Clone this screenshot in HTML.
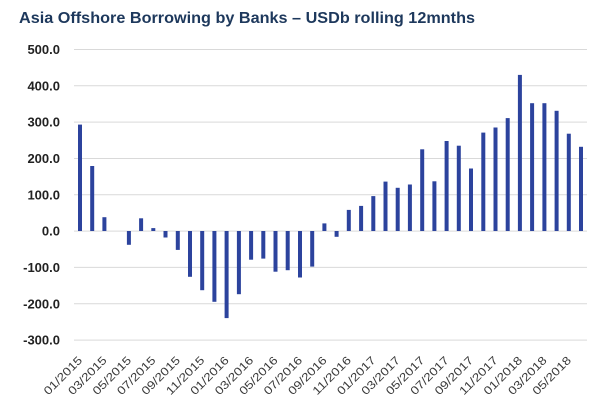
<!DOCTYPE html>
<html>
<head>
<meta charset="utf-8">
<style>
html,body{margin:0;padding:0;background:#fff;}
svg{display:block;}
</style>
</head>
<body>
<svg width="600" height="415" viewBox="0 0 600 415" xmlns="http://www.w3.org/2000/svg">
<rect width="600" height="415" fill="#fff"/>
<text x="19" y="23" font-family="Liberation Sans, sans-serif" font-weight="bold" font-size="16" fill="#1d385c" textLength="456" lengthAdjust="spacingAndGlyphs">Asia Offshore Borrowing by Banks – USDb rolling 12mnths</text>

<g stroke="#d9d9d9" stroke-width="1">
<line x1="74" x2="587" y1="49.5" y2="49.5"/>
<line x1="74" x2="587" y1="85.8" y2="85.8"/>
<line x1="74" x2="587" y1="122.1" y2="122.1"/>
<line x1="74" x2="587" y1="158.5" y2="158.5"/>
<line x1="74" x2="587" y1="194.8" y2="194.8"/>
<line x1="74" x2="587" y1="231.1" y2="231.1"/>
<line x1="74" x2="587" y1="267.4" y2="267.4"/>
<line x1="74" x2="587" y1="303.8" y2="303.8"/>
<line x1="74" x2="587" y1="340.1" y2="340.1"/>
</g>

<g font-family="Liberation Sans, sans-serif" font-weight="bold" font-size="13" fill="#222222" text-anchor="end">
<text x="60" y="54">500.0</text>
<text x="60" y="90.3">400.0</text>
<text x="60" y="126.6">300.0</text>
<text x="60" y="163">200.0</text>
<text x="60" y="199.3">100.0</text>
<text x="60" y="235.6">0.0</text>
<text x="60" y="271.9">-100.0</text>
<text x="60" y="308.3">-200.0</text>
<text x="60" y="344.6">-300.0</text>
</g>

<g fill="#2c439d">
<rect x="78" y="124.6" width="4" height="106.4"/>
<rect x="90.2" y="166" width="4" height="65"/>
<rect x="102.4" y="217.2" width="4" height="13.8"/>
<rect x="126.9" y="231" width="4" height="13.8"/>
<rect x="139.1" y="218.3" width="4" height="12.7"/>
<rect x="151.3" y="228.1" width="4" height="2.9"/>
<rect x="163.5" y="231" width="4" height="6.5"/>
<rect x="175.8" y="231" width="4" height="18.9"/>
<rect x="188" y="231" width="4" height="45.8"/>
<rect x="200.2" y="231" width="4" height="59.2"/>
<rect x="212.4" y="231" width="4" height="70.8"/>
<rect x="224.6" y="231" width="4" height="87.1"/>
<rect x="236.9" y="231" width="4" height="63.2"/>
<rect x="249.1" y="231" width="4" height="28.7"/>
<rect x="261.3" y="231" width="4" height="27.6"/>
<rect x="273.5" y="231" width="4" height="40.7"/>
<rect x="285.7" y="231" width="4" height="39.2"/>
<rect x="298" y="231" width="4" height="46.5"/>
<rect x="310.2" y="231" width="4" height="35.6"/>
<rect x="322.4" y="223.4" width="4" height="7.6"/>
<rect x="334.6" y="231" width="4" height="5.8"/>
<rect x="346.8" y="209.9" width="4" height="21.1"/>
<rect x="359.1" y="205.9" width="4" height="25.1"/>
<rect x="371.3" y="196.1" width="4" height="34.9"/>
<rect x="383.5" y="181.6" width="4" height="49.4"/>
<rect x="395.7" y="187.8" width="4" height="43.2"/>
<rect x="407.9" y="184.5" width="4" height="46.5"/>
<rect x="420.2" y="149.3" width="4" height="81.7"/>
<rect x="432.4" y="181.3" width="4" height="49.7"/>
<rect x="444.6" y="141" width="4" height="90"/>
<rect x="456.8" y="145.7" width="4" height="85.3"/>
<rect x="469" y="168.5" width="4" height="62.5"/>
<rect x="481.3" y="132.6" width="4" height="98.4"/>
<rect x="493.5" y="127.5" width="4" height="103.5"/>
<rect x="505.7" y="118.1" width="4" height="112.9"/>
<rect x="517.9" y="74.9" width="4" height="156.1"/>
<rect x="530.1" y="103.2" width="4" height="127.8"/>
<rect x="542.4" y="103.2" width="4" height="127.8"/>
<rect x="554.6" y="110.8" width="4" height="120.2"/>
<rect x="566.8" y="133.7" width="4" height="97.3"/>
<rect x="579" y="146.8" width="4" height="84.2"/>
</g>

<g font-family="Liberation Sans, sans-serif" font-size="11.5" fill="#3a3a3a" text-anchor="end">
<text transform="translate(83,361) rotate(-45)" textLength="49" lengthAdjust="spacingAndGlyphs">01/2015</text>
<text transform="translate(107.4,361) rotate(-45)" textLength="49" lengthAdjust="spacingAndGlyphs">03/2015</text>
<text transform="translate(131.9,361) rotate(-45)" textLength="49" lengthAdjust="spacingAndGlyphs">05/2015</text>
<text transform="translate(156.3,361) rotate(-45)" textLength="49" lengthAdjust="spacingAndGlyphs">07/2015</text>
<text transform="translate(180.8,361) rotate(-45)" textLength="49" lengthAdjust="spacingAndGlyphs">09/2015</text>
<text transform="translate(205.2,361) rotate(-45)" textLength="49" lengthAdjust="spacingAndGlyphs">11/2015</text>
<text transform="translate(229.6,361) rotate(-45)" textLength="49" lengthAdjust="spacingAndGlyphs">01/2016</text>
<text transform="translate(254.1,361) rotate(-45)" textLength="49" lengthAdjust="spacingAndGlyphs">03/2016</text>
<text transform="translate(278.5,361) rotate(-45)" textLength="49" lengthAdjust="spacingAndGlyphs">05/2016</text>
<text transform="translate(303,361) rotate(-45)" textLength="49" lengthAdjust="spacingAndGlyphs">07/2016</text>
<text transform="translate(327.4,361) rotate(-45)" textLength="49" lengthAdjust="spacingAndGlyphs">09/2016</text>
<text transform="translate(351.8,361) rotate(-45)" textLength="49" lengthAdjust="spacingAndGlyphs">11/2016</text>
<text transform="translate(376.3,361) rotate(-45)" textLength="49" lengthAdjust="spacingAndGlyphs">01/2017</text>
<text transform="translate(400.7,361) rotate(-45)" textLength="49" lengthAdjust="spacingAndGlyphs">03/2017</text>
<text transform="translate(425.2,361) rotate(-45)" textLength="49" lengthAdjust="spacingAndGlyphs">05/2017</text>
<text transform="translate(449.6,361) rotate(-45)" textLength="49" lengthAdjust="spacingAndGlyphs">07/2017</text>
<text transform="translate(474,361) rotate(-45)" textLength="49" lengthAdjust="spacingAndGlyphs">09/2017</text>
<text transform="translate(498.5,361) rotate(-45)" textLength="49" lengthAdjust="spacingAndGlyphs">11/2017</text>
<text transform="translate(522.9,361) rotate(-45)" textLength="49" lengthAdjust="spacingAndGlyphs">01/2018</text>
<text transform="translate(547.4,361) rotate(-45)" textLength="49" lengthAdjust="spacingAndGlyphs">03/2018</text>
<text transform="translate(571.8,361) rotate(-45)" textLength="49" lengthAdjust="spacingAndGlyphs">05/2018</text>
</g>
</svg>
</body>
</html>
